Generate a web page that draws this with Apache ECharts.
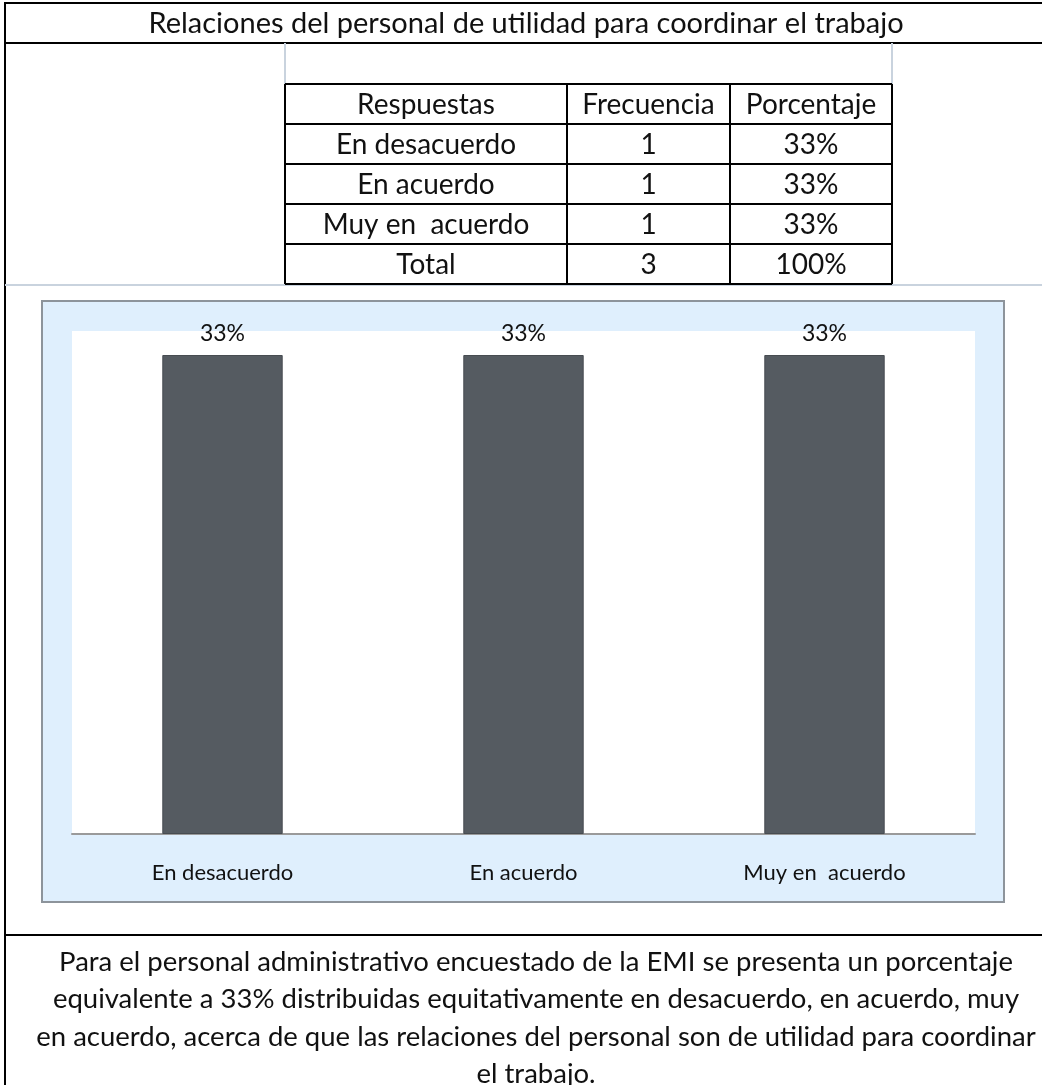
<!DOCTYPE html>
<html>
<head>
<meta charset="utf-8">
<script src="https://cdn.jsdelivr.net/npm/echarts@6/dist/echarts.min.js"></script>
<style>
  html, body { margin: 0; padding: 0; background: #fff; }
  #main { width: 1042px; height: 1085px; }
</style>
</head>
<body>
<div id="main"></div>
<script>
var titulo = "Relaciones del personal de utilidad para coordinar el trabajo";
var encabezados = ["Respuestas", "Frecuencia", "Porcentaje"];
var categorias = ["En desacuerdo", "En acuerdo", "Muy en  acuerdo"];
var frecuencia = [1, 1, 1];
var porcentaje = [33.33, 33.33, 33.33];
var porcentajeTexto = ["33%", "33%", "33%"];
var total = ["Total", 3, "100%"];
var parrafo = [
  "Para el personal administrativo encuestado de la EMI se presenta un porcentaje",
  "equivalente a 33% distribuidas equitativamente en desacuerdo, en acuerdo, muy",
  "en acuerdo, acerca de que las relaciones del personal son de utilidad para coordinar",
  "el trabajo."
];

var fuente = "Lato, 'Open Sans', sans-serif";

function barChart() {
  var dom = document.getElementById("main");
  var myChart = echarts.init(dom, null, { renderer: "canvas" });

  var graficos = [];
  function linea(x1, y1, x2, y2, color, w) {
    graficos.push({
      type: "line", z: -5, silent: true,
      shape: { x1: x1, y1: y1, x2: x2, y2: y2 },
      style: { stroke: color || "#000", lineWidth: w || 2 }
    });
  }
  function texto(t, x, y, size) {
    graficos.push({
      type: "text", z: 10, silent: true, x: x, y: y,
      style: {
        text: String(t), fill: "#111", font: size + "px " + fuente,
        textAlign: "center", textVerticalAlign: "middle"
      }
    });
  }

  // marco general
  linea(5, 3, 1042, 3);
  linea(5, 2, 5, 1085);
  linea(5, 43, 1042, 43);
  linea(5, 935, 1042, 935);
  texto(titulo, 526, 24, 29);

  // lineas claras alrededor de la tabla
  linea(285, 43, 285, 84, "#c9d3de", 2);
  linea(892, 43, 892, 84, "#c9d3de", 2);
  linea(5, 285, 1042, 285, "#c9d3de", 2);

  // tabla
  var colX = [285, 567, 730, 892];
  var filaY = [84, 124, 164, 204, 244, 284];
  var filas = [encabezados];
  for (var i = 0; i < categorias.length; i++) {
    filas.push([categorias[i], frecuencia[i], porcentajeTexto[i]]);
  }
  filas.push(total);
  filaY.forEach(function (y) { linea(colX[0], y, colX[3], y); });
  colX.forEach(function (x) { linea(x, filaY[0], x, filaY[filaY.length - 1]); });
  filas.forEach(function (fila, r) {
    fila.forEach(function (celda, c) {
      texto(celda, (colX[c] + colX[c + 1]) / 2, (filaY[r] + filaY[r + 1]) / 2 + 1, 28);
    });
  });

  // fondo del grafico
  graficos.push({
    type: "rect", z: -10, silent: true,
    shape: { x: 42, y: 301, width: 962, height: 601 },
    style: { fill: "#dfeffd", stroke: "#8d949b", lineWidth: 2 }
  });
  graficos.push({
    type: "rect", z: -9, silent: true,
    shape: { x: 72, y: 331, width: 903, height: 503 },
    style: { fill: "#ffffff" }
  });

  // parrafo (la celda sigue mas alla del borde derecho)
  parrafo.forEach(function (l, i) {
    texto(l, 536, 962 + i * 37.5, 27.5);
  });

  var option = {
    animation: false,
    graphic: { elements: graficos },
    grid: { left: 72, right: 67, top: 331, bottom: 251 },
    xAxis: {
      type: "category",
      data: categorias,
      axisLine: { lineStyle: { color: "#9a9a9a", width: 2 } },
      axisTick: { show: false },
      axisLabel: { margin: 28, fontSize: 22, color: "#111", fontFamily: fuente }
    },
    yAxis: {
      type: "value", min: 0, max: 35,
      show: false, splitLine: { show: false }
    },
    series: [
      {
        type: "bar",
        data: porcentaje,
        barWidth: "40%",
        itemStyle: { color: "#555b61", borderColor: "#474c51", borderWidth: 1 },
        label: {
          show: true, position: "top", distance: 10,
          fontSize: 23, color: "#111", fontFamily: fuente,
          formatter: function (p) { return porcentajeTexto[p.dataIndex]; }
        }
      }
    ]
  };

  if (option && typeof option === "object") {
    myChart.setOption(option);
  }
  window.addEventListener("resize", myChart.resize);
}

barChart();
</script>
</body>
</html>
